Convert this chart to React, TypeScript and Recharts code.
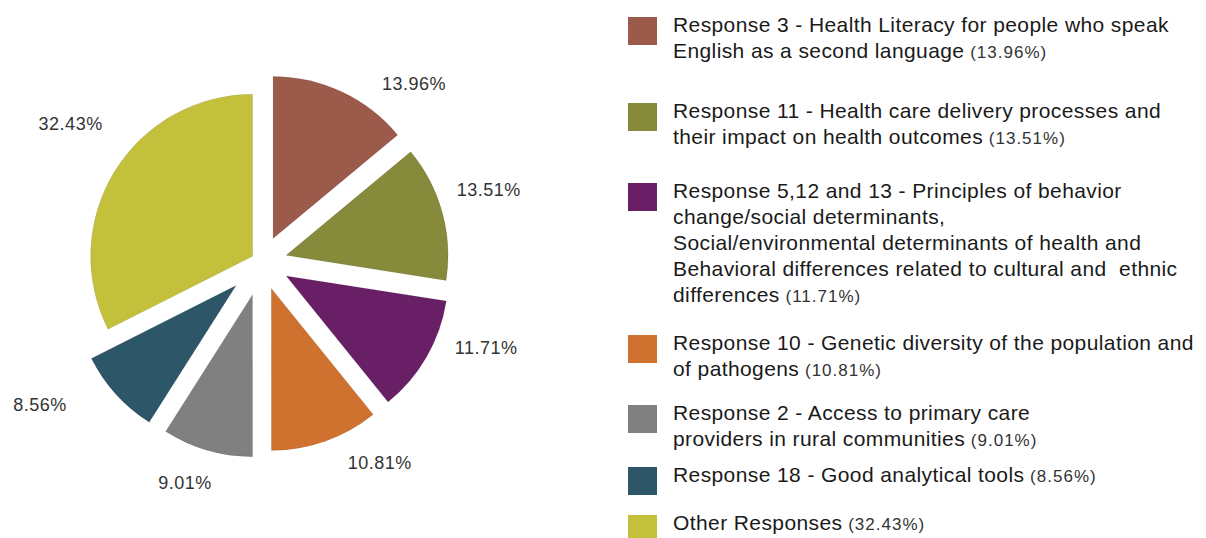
import { PieChart, Pie, Sector, Legend } from 'recharts';

const NAMES = [
  'Response 3',
  'Response 11',
  'Response 5,12 and 13',
  'Response 10',
  'Response 2',
  'Response 18',
  'Other Responses',
];
const VALUES = [13.96, 13.51, 11.71, 10.81, 9.01, 8.56, 32.43];
const COLORS = ['#9C5A4B', '#868A3B', '#691F66', '#D0722F', '#808080', '#2D5668', '#C3C03B'];

const LEGEND_LINES: string[][] = [
  ['Response 3 - Health Literacy for people who speak', 'English as a second language'],
  ['Response 11 - Health care delivery processes and', 'their impact on health outcomes'],
  [
    'Response 5,12 and 13 - Principles of behavior',
    'change/social determinants,',
    'Social/environmental determinants of health and',
    'Behavioral differences related to cultural and  ethnic',
    'differences',
  ],
  ['Response 10 - Genetic diversity of the population and', 'of pathogens'],
  ['Response 2 - Access to primary care', 'providers in rural communities'],
  ['Response 18 - Good analytical tools'],
  ['Other Responses'],
];

// how far each slice is pulled out of the pie (px)
const EXPLODE = [26, 25, 28, 28, 34, 35, 11];
// label placement: shift from the slice's mid angle (deg) and distance from centre (px)
const LABEL_SHIFT = [-15.4, 2.2, 9.0, 10.9, -3.0, -9.4, -4.2];
const LABEL_RADIUS = [234, 238, 240, 233, 234, 264, 236];
// top of each legend entry (px)
const LEGEND_TOP = [12, 98, 178, 330, 400, 462, 510];

const data = NAMES.map((name, i) => ({ name, value: VALUES[i] }));

const RAD = Math.PI / 180;
const polar = (cx: number, cy: number, r: number, angle: number) => ({
  x: cx + r * Math.cos(-angle * RAD),
  y: cy + r * Math.sin(-angle * RAD),
});

// draws the exploded slice plus its percentage
function renderSlice(props: any) {
  const { cx, cy, innerRadius, outerRadius, startAngle, endAngle, midAngle, index, value } = props;
  const c = polar(cx, cy, EXPLODE[index], midAngle);
  const t = polar(cx, cy, LABEL_RADIUS[index], midAngle + LABEL_SHIFT[index]);
  return (
    <g key={`slice-${index}`}>
      <Sector
        cx={c.x}
        cy={c.y}
        innerRadius={innerRadius}
        outerRadius={outerRadius}
        startAngle={startAngle}
        endAngle={endAngle}
        fill={COLORS[index]}
        stroke="rgba(0,0,0,0.08)"
        strokeWidth={1}
      />
      <text
        x={t.x}
        y={t.y}
        textAnchor="middle"
        dominantBaseline="central"
        fill="#333"
        fontSize={18}
        letterSpacing={0.5}
      >
        {value.toFixed(2)}%
      </text>
    </g>
  );
}

function LegendBox() {
  return (
    <div style={{ position: 'relative', width: 606, height: 538 }}>
      {LEGEND_LINES.map((lines, i) => (
        <div key={NAMES[i]} style={{ position: 'absolute', left: 0, top: LEGEND_TOP[i] }}>
          <div
            style={{
              position: 'absolute',
              left: 28,
              top: 5,
              width: 29,
              height: 28,
              background: COLORS[i],
            }}
          />
          <div
            style={{
              position: 'absolute',
              left: 73,
              top: 0,
              whiteSpace: 'pre',
              fontSize: 21,
              lineHeight: '26px',
              letterSpacing: 0.4,
              color: '#1a1a1a',
            }}
          >
            {lines.map((line, j) => (
              <div key={j}>
                {line}
                {j === lines.length - 1 && (
                  <span style={{ fontSize: 17, letterSpacing: 1, color: '#333' }}>
                    {' '}({VALUES[i].toFixed(2)}%)
                  </span>
                )}
              </div>
            ))}
          </div>
        </div>
      ))}
    </div>
  );
}

export default function App() {
  return (
    <div
      style={{
        position: 'absolute',
        left: 0,
        top: 0,
        width: 1206,
        height: 538,
        background: '#fff',
        fontFamily: '"Liberation Sans", Arial, sans-serif',
      }}
    >
      <PieChart width={1206} height={538} margin={{ top: 0, right: 0, bottom: 0, left: 0 }}>
        <Pie
          data={data}
          dataKey="value"
          nameKey="name"
          cx={262}
          cy={262}
          innerRadius={0}
          outerRadius={162}
          startAngle={90}
          endAngle={-270}
          fill="none"
          stroke="none"
          label={renderSlice}
          labelLine={false}
          isAnimationActive={false}
        />
        <Legend
          layout="vertical"
          align="right"
          verticalAlign="top"
          wrapperStyle={{ left: 600, top: 0, width: 606, height: 538 }}
          content={() => <LegendBox />}
        />
      </PieChart>
    </div>
  );
}
